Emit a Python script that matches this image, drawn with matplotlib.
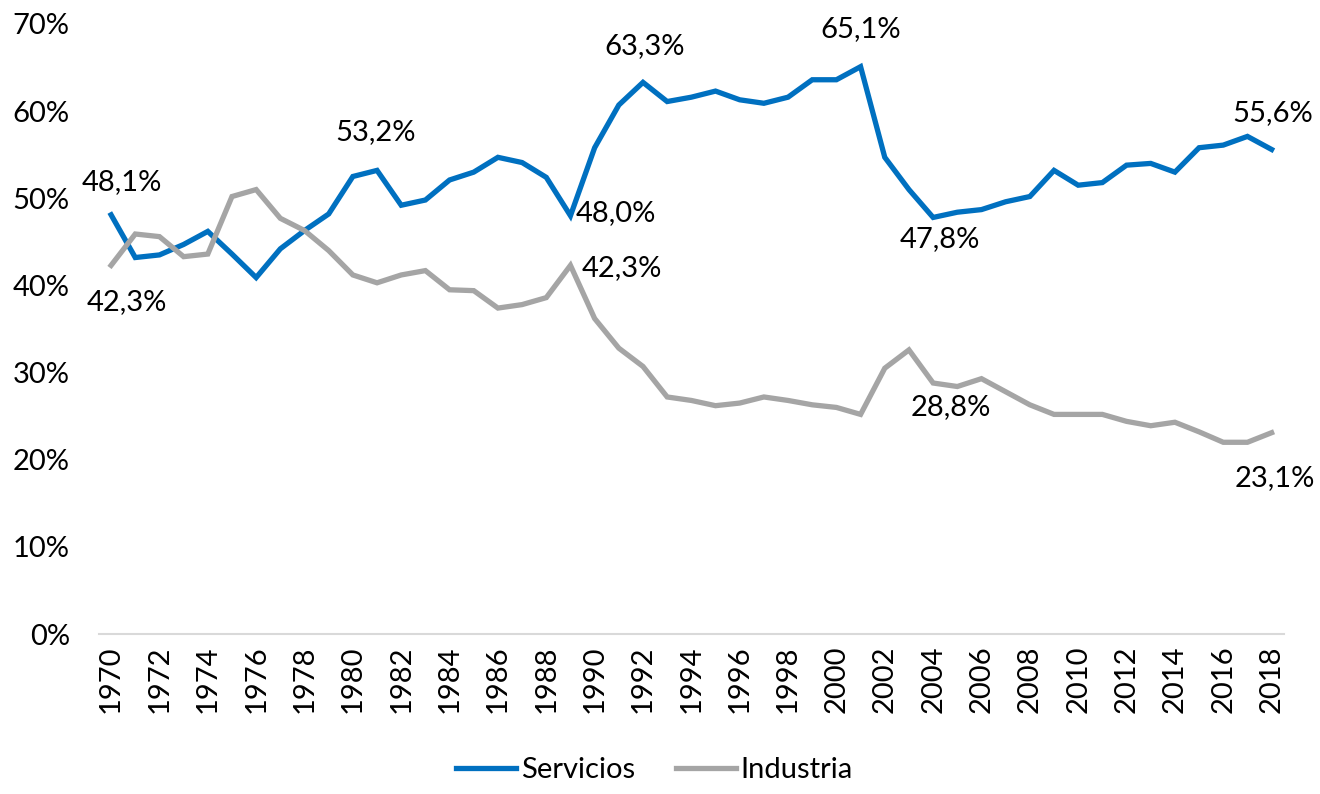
import matplotlib
matplotlib.use("Agg")
import matplotlib.pyplot as plt
import numpy as np

plt.rcParams['font.family'] = ['Lato', 'DejaVu Sans']

# Data (share of total, %)
years = list(range(1970, 2019))
servicios = [48.1, 43.2, 43.5, 44.7, 46.2, 43.6, 40.9, 44.2, 46.3, 48.2,
             52.5, 53.2, 49.2, 49.8, 52.1, 53.0, 54.7, 54.1, 52.4, 48.0,
             55.8, 60.7, 63.3, 61.1, 61.6, 62.3, 61.3, 60.9, 61.6, 63.6,
             63.6, 65.1, 54.7, 51.0, 47.8, 48.4, 48.7, 49.6, 50.2, 53.2,
             51.5, 51.8, 53.8, 54.0, 53.0, 55.8, 56.1, 57.1, 55.6]
industria = [42.3, 45.9, 45.6, 43.3, 43.6, 50.2, 51.0, 47.7, 46.3, 44.0,
             41.2, 40.3, 41.2, 41.7, 39.5, 39.4, 37.4, 37.8, 38.6, 42.3,
             36.2, 32.8, 30.7, 27.2, 26.8, 26.2, 26.5, 27.2, 26.8, 26.3,
             26.0, 25.2, 30.5, 32.6, 28.8, 28.4, 29.3, 27.8, 26.3, 25.2,
             25.2, 25.2, 24.4, 23.9, 24.3, 23.2, 22.0, 22.0, 23.1]

# labelled points: (year, ha, va, dx, dy) offsets in points
serv_labels = [(1970, 'center', 'bottom', 8, 14),
               (1981, 'center', 'bottom', -1, 18),
               (1989, 'left', 'center', 4, 2),
               (1992, 'center', 'bottom', 1, 17),
               (2001, 'center', 'bottom', 0, 18),
               (2004, 'center', 'top', 5, -6),
               (2018, 'center', 'bottom', 1, 17)]
ind_labels = [(1970, 'center', 'top', 11, -17),
              (1989, 'left', 'center', 8, -2),
              (2004, 'center', 'top', 13, -8),
              (2018, 'center', 'top', 2, -23)]

blue = '#0070C0'
gray = '#A5A5A5'
fs = 21

fig = plt.figure(figsize=(13.2, 7.94), dpi=100)
ax = fig.add_axes([0.075, 0.2015, 0.8975, 0.7683])

ax.plot(years, servicios, color=blue, lw=3.8, label='Servicios', solid_joinstyle='miter')
ax.plot(years, industria, color=gray, lw=3.8, label='Industria', solid_joinstyle='miter')

def fmt(v):
    return ('%.1f%%' % v).replace('.', ',')

for yr, ha, va, dx, dy in serv_labels:
    v = servicios[years.index(yr)]
    ax.annotate(fmt(v), (yr, v), xytext=(dx, dy), textcoords='offset points',
                ha=ha, va=va, fontsize=fs)
for yr, ha, va, dx, dy in ind_labels:
    v = industria[years.index(yr)]
    ax.annotate(fmt(v), (yr, v), xytext=(dx, dy), textcoords='offset points',
                ha=ha, va=va, fontsize=fs)

ax.set_xlim(1969.5, 2018.5)
ax.set_ylim(0, 70)
ax.set_yticks(np.arange(0, 71, 10))
ax.set_yticklabels(['%d%%' % t for t in range(0, 71, 10)], fontsize=fs)
ax.set_xticks(years[::2])
ax.set_xticklabels([str(y) for y in years[::2]], rotation=90, fontsize=fs)
ax.tick_params(length=0)
ax.tick_params(axis='y', pad=21)
ax.tick_params(axis='x', pad=8)
for s in ['top', 'right', 'left']:
    ax.spines[s].set_visible(False)
ax.spines['bottom'].set_color('#D9D9D9')
ax.spines['bottom'].set_linewidth(1.5)

fig.legend(loc='center', bbox_to_anchor=(0.496, 0.03), ncol=2, frameon=False,
           fontsize=fs, handlelength=2.05, handletextpad=0.17, columnspacing=1.4)

fig.savefig('out.png', dpi=100)
